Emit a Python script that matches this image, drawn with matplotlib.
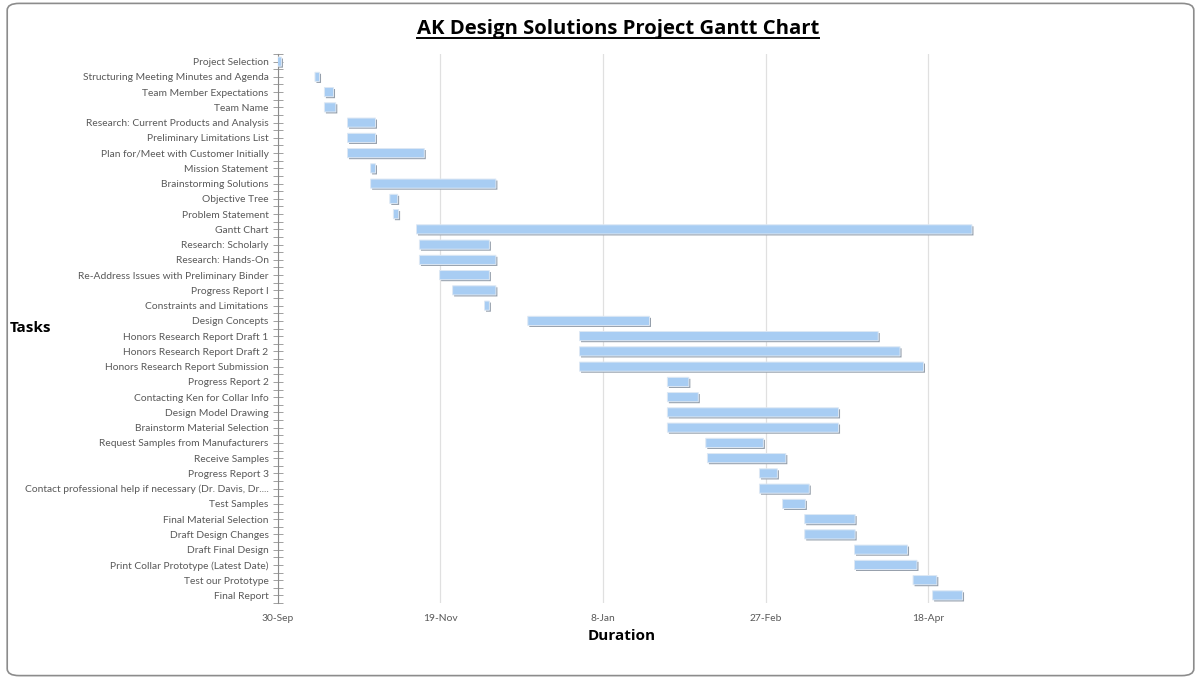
import numpy as np
import pandas as pd
import matplotlib
matplotlib.use("Agg")
import matplotlib.pyplot as plt
import matplotlib.dates as mdates
from matplotlib.patches import FancyBboxPatch
from matplotlib.transforms import offset_copy

tasks = [
    "Project Selection",
    "Structuring Meeting Minutes and Agenda",
    "Team Member Expectations",
    "Team Name",
    "Research: Current Products and Analysis",
    "Preliminary Limitations List",
    "Plan for/Meet with Customer Initially",
    "Mission Statement",
    "Brainstorming Solutions",
    "Objective Tree",
    "Problem Statement",
    "Gantt Chart",
    "Research: Scholarly",
    "Research: Hands-On",
    "Re-Address Issues with Preliminary Binder",
    "Progress Report I",
    "Constraints and Limitations",
    "Design Concepts",
    "Honors Research Report Draft 1",
    "Honors Research Report Draft 2",
    "Honors Research Report Submission",
    "Progress Report 2",
    "Contacting Ken for Collar Info",
    "Design Model Drawing",
    "Brainstorm Material Selection",
    "Request Samples from Manufacturers",
    "Receive Samples",
    "Progress Report 3",
    "Contact professional help if necessary (Dr. Davis, Dr....",
    "Test Samples",
    "Final Material Selection",
    "Draft Design Changes",
    "Draft Final Design",
    "Print Collar Prototype (Latest Date)",
    "Test our Prototype",
    "Final Report",
]

# days after 30-Sep
start_day = [0, 11.5, 14.4, 14.4, 21.5, 21.5, 21.5, 28.6, 28.6, 34.5, 35.6, 42.7,
             43.6, 43.6, 49.8, 53.8, 63.6, 76.9, 92.8, 92.8, 92.8, 119.8, 119.8,
             119.8, 119.8, 131.6, 132.1, 148.1, 148.1, 155.2, 162.0, 162.0, 177.3,
             177.3, 195.3, 201.3]
duration = [1.2, 1.4, 2.8, 3.5, 8.6, 8.6, 23.6, 1.5, 38.5, 2.4, 1.6, 170.7,
            21.5, 23.5, 15.3, 13.3, 1.5, 37.4, 91.8, 98.5, 105.7, 6.6, 9.5,
            52.6, 52.6, 17.7, 24.1, 5.5, 15.3, 7.0, 15.5, 15.5, 16.3,
            19.2, 7.3, 9.2]

base = pd.Timestamp("2013-09-30")
tick_dates = pd.date_range(base, periods=5, freq="50D")

x0 = mdates.date2num(base)
starts = x0 + np.array(start_day)
rows = np.arange(len(tasks))

fig = plt.figure(figsize=(12.01, 6.79), dpi=100)
ax = fig.add_axes([0.2311, 0.1119, 0.6015, 0.8086])

# outer chart frame
fig.patches.append(FancyBboxPatch((0.006, 0.005), 0.988, 0.99, boxstyle="round,pad=0,rounding_size=0.01",
                                  transform=fig.transFigure, fill=False, edgecolor="#8c8c8c", linewidth=1.2))

shadow = offset_copy(ax.transData, fig=fig, x=1.5, y=-1.5, units="dots")
sh = ax.barh(rows, duration, left=starts, height=0.6, color="#959fab", transform=shadow, zorder=2)
bars = ax.barh(rows, duration, left=starts, height=0.6, color="#a8cdf3", edgecolor="#dde8f4",
               linewidth=0.7, zorder=3)
for p in list(sh) + list(bars):
    p.set_snap(False)

ax.set_xlim(x0, x0 + 222)
ax.set_ylim(len(tasks) - 0.5, -0.5)
ax.set_xticks(mdates.date2num(tick_dates))
ax.xaxis.set_major_formatter(plt.FuncFormatter(lambda v, p: f"{mdates.num2date(v).day}-{mdates.num2date(v):%b}"))
ax.grid(axis="x", color="#e0e0e0", linewidth=0.9, zorder=0)

ax.set_yticks(rows)
ax.set_yticklabels(tasks, fontsize=7.4, color="#595959", family="Lato")
ax.set_yticks(np.arange(len(tasks) + 1) - 0.5, minor=True)
ax.tick_params(axis="y", which="both", direction="inout", length=7, width=0.7, color="#a0a0a0", pad=3)
ax.tick_params(axis="x", length=0, labelsize=7.4, labelcolor="#595959", pad=8)
for lab in ax.get_xticklabels():
    lab.set_family("Lato")

for s in ["top", "right", "bottom"]:
    ax.spines[s].set_visible(False)
ax.spines["left"].set_color("#8c8c8c")

fig.text(0.518, 0.0627, "Duration", ha="center", va="center", fontsize=11, fontweight="bold", family="Open Sans")
fig.text(0.008, 0.517, "Tasks", ha="left", va="center", fontsize=11, fontweight="bold", family="Open Sans")

title = fig.text(0.5146, 0.957, "AK Design Solutions Project Gantt Chart", ha="center", va="center",
                 fontsize=14.6, fontweight="bold", family="Open Sans")
fig.canvas.draw()
bb = title.get_window_extent().transformed(fig.transFigure.inverted())
fig.add_artist(plt.Line2D([bb.x0, bb.x1], [bb.y0 + 0.002, bb.y0 + 0.002], color="black", linewidth=1.4,
                          transform=fig.transFigure))

fig.savefig("out.png", dpi=100)
